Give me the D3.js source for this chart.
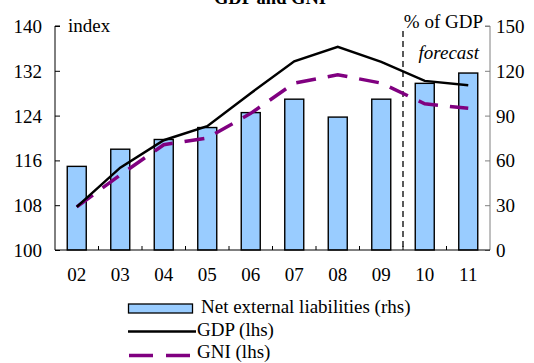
<!DOCTYPE html>
<html><head><meta charset="utf-8">
<script src="https://cdn.jsdelivr.net/npm/d3@7"></script>
<style>body{margin:0;background:#fff}svg{display:block}text{font-family:"Liberation Serif","Times New Roman",serif;fill:#000}</style>
</head><body><svg id="c" width="534" height="363"></svg>
<script>
const years = ["02","03","04","05","06","07","08","09","10","11"];
const liabilities = [56, 67.5, 74, 82, 92, 101, 89, 101, 111.6, 118.5];
const gdp = [107.7, 114.7, 119.6, 122.1, 128.0, 133.7, 136.3, 133.6, 130.2, 129.4];
const gni = [107.7, 113.4, 118.8, 120.0, 124.4, 129.8, 131.3, 129.8, 126.1, 125.3];
const leftTicks = [100, 108, 116, 124, 132, 140];
const rightTicks = [0, 30, 60, 90, 120, 150];

const svg = d3.select("#c");
const L = 55, R = 490, T = 26, B = 250;
const xc = d3.scaleBand().domain(years).range([L, R]);
const yL = d3.scaleLinear().domain([100, 140]).range([B, T]);
const yR = d3.scaleLinear().domain([0, 150]).range([B, T]);
const FS = "19px";

svg.append("text").attr("x", 270).attr("y", 4).attr("text-anchor", "middle")
  .style("font-weight", "bold").style("font-size", "18.5px").text("GDP and GNI");

// bars
svg.selectAll("rect.bar").data(years).enter().append("rect")
  .attr("x", d => xc(d) + xc.bandwidth()/2 - 9.5).attr("width", 19)
  .attr("y", (d,i) => yR(liabilities[i])).attr("height", (d,i) => B - yR(liabilities[i]))
  .attr("fill", "#99CCFF").attr("stroke", "#000").attr("stroke-width", 1.4);

// forecast line
const fx = xc("10");
svg.append("line").attr("x1", fx).attr("x2", fx).attr("y1", 31).attr("y2", B)
  .attr("stroke", "#000").attr("stroke-width", 1.3).attr("stroke-dasharray", "6,4");

// axes
const gL = svg.append("g").attr("transform", `translate(${L},0)`)
  .call(d3.axisRight(yL).tickValues(leftTicks).tickSize(5).tickFormat(""));
gL.select(".domain").attr("d", `M5,${T}H0V${B}`).attr("stroke", "#000");
gL.selectAll(".tick line").attr("stroke", "#000");
svg.selectAll("text.yl").data(leftTicks).enter().append("text")
  .attr("x", 42).attr("y", d => yL(d) + 7).attr("text-anchor", "end").style("font-size", FS).text(d => d);

const gR = svg.append("g").attr("transform", `translate(${R},0)`)
  .call(d3.axisLeft(yR).tickValues(rightTicks).tickSize(5).tickFormat(""));
gR.select(".domain").attr("d", `M-5,${T}H0V${B}`).attr("stroke", "#808080");
gR.selectAll(".tick line").attr("stroke", "#808080");
svg.selectAll("text.yr").data(rightTicks).enter().append("text")
  .attr("x", 496).attr("y", d => yR(d) + 7).attr("text-anchor", "start").style("font-size", FS).text(d => d);

// x axis
svg.append("line").attr("x1", L).attr("x2", R).attr("y1", B).attr("y2", B).attr("stroke", "#000").attr("stroke-width", 1);
svg.selectAll("line.xt").data(years.slice(1)).enter().append("line")
  .attr("x1", d => xc(d)).attr("x2", d => xc(d)).attr("y1", B).attr("y2", B - 4)
  .attr("stroke", "#000");
svg.selectAll("text.xl").data(years).enter().append("text")
  .attr("x", d => xc(d) + xc.bandwidth()/2).attr("y", 281).attr("text-anchor", "middle")
  .style("font-size", FS).text(d => d);

// lines
const lineGen = arr => d3.line().x((d,i) => xc(years[i]) + xc.bandwidth()/2).y(d => yL(d))(arr);
svg.append("path").attr("d", lineGen(gni)).attr("fill", "none").attr("stroke", "#800080")
  .attr("stroke-width", 3.5).attr("stroke-dasharray", "20,12");
svg.append("path").attr("d", lineGen(gdp)).attr("fill", "none").attr("stroke", "#000")
  .attr("stroke-width", 2.5);

// labels
svg.append("text").attr("x", 68).attr("y", 32).style("font-size", FS).text("index");
svg.append("text").attr("x", 483).attr("y", 28).attr("text-anchor", "end").style("font-size", FS).text("% of GDP");
svg.append("text").attr("x", 479).attr("y", 59).attr("text-anchor", "end").style("font-size", FS).style("font-style", "italic").text("forecast");

// legend
const lg = svg.append("g");
lg.append("rect").attr("x", 128.5).attr("y", 304).attr("width", 64).attr("height", 9)
  .attr("fill", "#99CCFF").attr("stroke", "#000").attr("stroke-width", 1.3);
lg.append("line").attr("x1", 128).attr("x2", 196).attr("y1", 331.5).attr("y2", 331.5).attr("stroke", "#000").attr("stroke-width", 2.5);
lg.append("line").attr("x1", 129).attr("x2", 196).attr("y1", 355.5).attr("y2", 355.5).attr("stroke", "#800080").attr("stroke-width", 3.5).attr("stroke-dasharray", "24,13");
const legTexts = ["Net external liabilities (rhs)", "GDP (lhs)", "GNI (lhs)"];
lg.selectAll("text").data(legTexts).enter().append("text")
  .attr("x", (d,i) => i === 0 ? 201 : 197).attr("y", (d,i) => 313 + i*22.5).style("font-size", FS).text(d => d);
</script></body></html>
